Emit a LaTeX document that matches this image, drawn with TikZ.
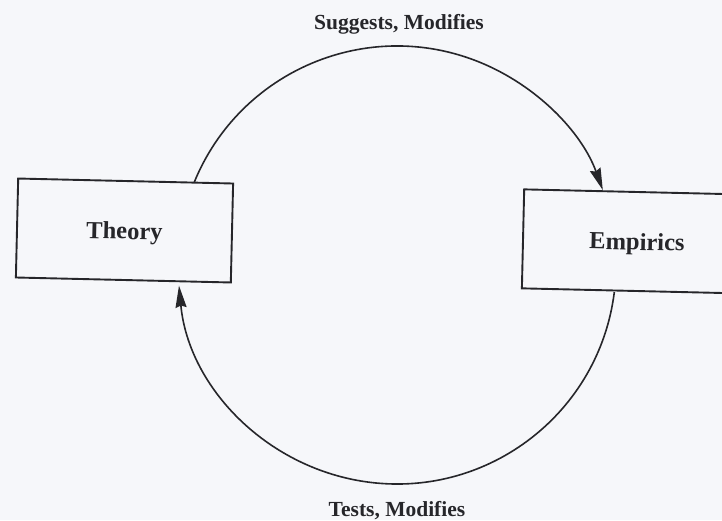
\documentclass[tikz,border=0pt]{standalone}
\usepackage{fontspec}
\setmainfont{Liberation Serif}
\usetikzlibrary{calc,arrows.meta}
\definecolor{paper}{RGB}{246,247,250}
\definecolor{ink}{RGB}{38,38,42}
\tikzset{
  boxnode/.style={draw=ink, line width=1.9pt, fill=paper, rotate=-1.33,
    minimum height=99pt, text depth=0pt, inner sep=0pt,
    font=\fontsize{24.5}{28}\selectfont\bfseries, text=ink},
  lbl/.style={anchor=base, inner sep=0pt, font=\fontsize{21.5}{25}\selectfont\bfseries, text=ink},
  cyc/.style={draw=ink, line width=1.6pt},
  tip/.style={-{Stealth[length=22pt,width=11pt,inset=2pt]}}
}
\begin{document}
\begin{tikzpicture}[x=1pt,y=-1pt]
\useasboundingbox (0,0) rectangle (722,520);
\clip (0,0) rectangle (722,520);
\fill[paper] (0,0) rectangle (722,520);
\coordinate (c) at (397,265);
\coordinate (t1) at ($(c)+(202.2:219)$);
\coordinate (e2) at ($(c)+(7.1:219)$);
\draw[cyc,tip] (t1) arc[start angle=202.2, end angle=340, radius=219];
\draw[cyc,tip] (e2) arc[start angle=7.1, end angle=174.6, radius=219];
\node[boxnode, minimum width=215pt] (theory) at (124.5,230.5) {Theory};
\node[boxnode, minimum width=228pt] (empirics) at (637,241.5) {Empirics};
\node[lbl] (sug) at (399,29) {Suggests, Modifies};
\node[lbl] (tes) at (397,516) {Tests, Modifies};
\end{tikzpicture}
\end{document}
